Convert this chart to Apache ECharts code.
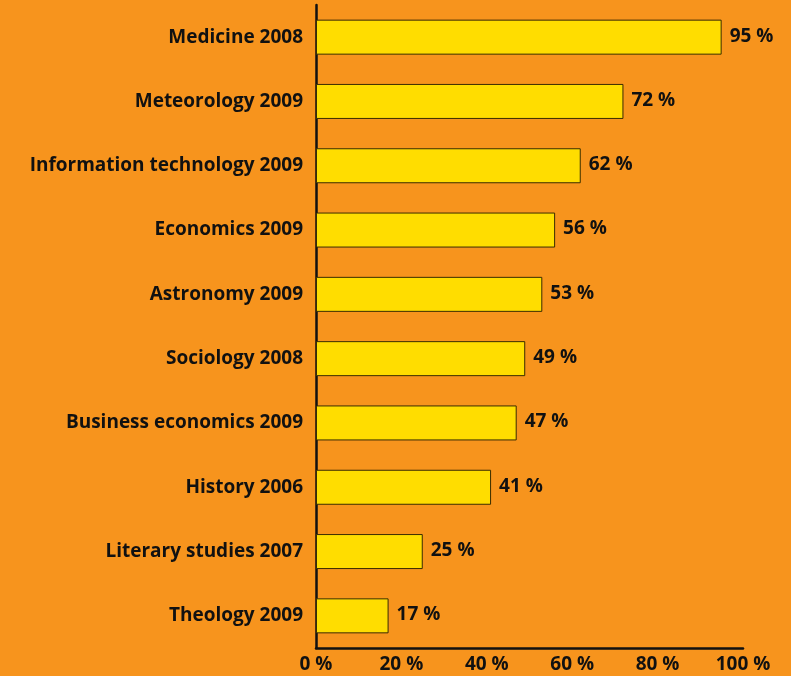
<!DOCTYPE html>
<html>
<head>
<meta charset="utf-8">
<script src="https://cdn.jsdelivr.net/npm/echarts@6/dist/echarts.min.js"></script>
<style>
  html, body { margin: 0; padding: 0; background: #F7941D; }
  #chart { width: 791px; height: 676px; }
</style>
</head>
<body>
<div id="chart"></div>
<script>
// Share of publications by field and year (percent)
const fields = [
  'Medicine 2008',
  'Meteorology 2009',
  'Information technology 2009',
  'Economics 2009',
  'Astronomy 2009',
  'Sociology 2008',
  'Business economics 2009',
  'History 2006',
  'Literary studies 2007',
  'Theology 2009'
];
const shares = [95, 72, 62, 56, 53, 49, 47, 41, 25, 17];
const tickValues = [0, 20, 40, 60, 80, 100];

const font = '"Open Sans", "Noto Sans", sans-serif';
const chart = echarts.init(document.getElementById('chart'));

chart.setOption({
  backgroundColor: '#F7941D',
  animation: false,
  grid: { left: 316, right: 48, top: 5, bottom: 28, containLabel: false },
  xAxis: {
    type: 'value',
    min: 0,
    max: 100,
    interval: 20,
    axisLine: { show: true, lineStyle: { color: '#111', width: 2.5 } },
    axisTick: { show: false },
    splitLine: { show: false },
    axisLabel: {
      color: '#111',
      fontFamily: font,
      fontWeight: 'bold',
      fontSize: 19,
      margin: 7,
      formatter: v => tickValues.includes(v) ? v + ' %' : ''
    }
  },
  yAxis: {
    type: 'category',
    data: fields,
    inverse: true,
    axisLine: { show: true, lineStyle: { color: '#111', width: 2.5 } },
    axisTick: { show: false },
    axisLabel: {
      color: '#111',
      fontFamily: font,
      fontWeight: 'bold',
      fontSize: 19,
      margin: 13
    }
  },
  series: [{
    type: 'bar',
    data: shares,
    barWidth: 35,
    itemStyle: { color: '#FFDD00', borderColor: '#3a2c00', borderWidth: 1 },
    label: {
      show: true,
      position: 'right',
      distance: 8,
      color: '#111',
      fontFamily: font,
      fontWeight: 'bold',
      fontSize: 19,
      offset: [0, -1],
      formatter: p => p.value + ' %'
    }
  }]
});
</script>
</body>
</html>
